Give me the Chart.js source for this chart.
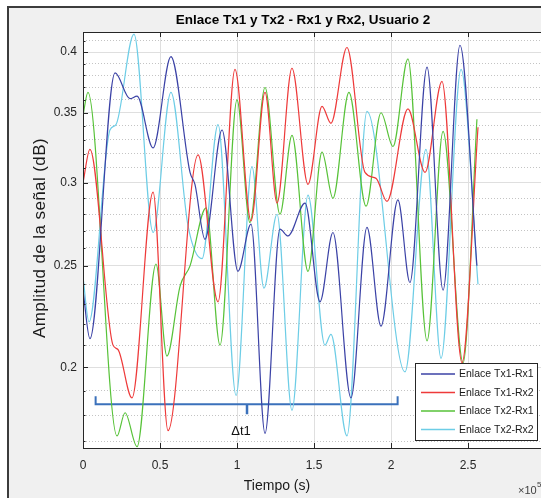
<!DOCTYPE html>
<html lang="es">
<head>
<meta charset="utf-8">
<title>Enlace Tx1 y Tx2 - Rx1 y Rx2, Usuario 2</title>
<script src="https://cdn.jsdelivr.net/npm/chart.js@4.4.1/dist/chart.umd.min.js"></script>
<style>
  html, body { margin: 0; padding: 0; background: #fff; overflow: hidden; width: 541px; height: 498px; }
  #marco { position: absolute; left: 7px; top: 6px; width: 560px; height: 520px; background: #f0f0f0;
           border-left: 2px solid #3c3c3c; border-top: 2px solid #3c3c3c; }
  #grafica { position: absolute; left: 0; top: 0; }
</style>
</head>
<body>
<div id="marco"></div>
<canvas id="grafica" width="560" height="498"></canvas>
<script>
// tiempo en unidades de 1e5 s, amplitud en escala logaritmica
const etiquetas = ["Enlace Tx1-Rx1", "Enlace Tx1-Rx2", "Enlace Tx2-Rx1", "Enlace Tx2-Rx2"];
const colores = ["#3b42a6", "#ee3a3a", "#57c238", "#6dcde6"];

const t_tx1rx1 = [0, 0.045, 0.208, 0.305, 0.351, 0.455, 0.571, 0.695, 0.727, 0.792, 0.903, 1.006, 1.091, 1.182,
  1.279, 1.331, 1.442, 1.539, 1.623, 1.740, 1.844, 1.935, 2.045, 2.123, 2.234, 2.338, 2.448, 2.558];
const a_tx1rx1 = [0.237, 0.213, 0.382, 0.361, 0.363, 0.324, 0.396, 0.307, 0.299, 0.265, 0.337, 0.247, 0.274, 0.173,
  0.271, 0.267, 0.287, 0.231, 0.269, 0.187, 0.272, 0.219, 0.289, 0.241, 0.387, 0.237, 0.406, 0.250];

const t_tx1rx2 = [0, 0.045, 0.195, 0.227, 0.318, 0.455, 0.552, 0.747, 0.877, 0.987, 1.091, 1.182, 1.260, 1.357,
  1.461, 1.552, 1.610, 1.714, 1.831, 1.903, 1.974, 2.110, 2.221, 2.331, 2.461, 2.565];
const a_tx1rx2 = [0.300, 0.323, 0.210, 0.208, 0.187, 0.294, 0.174, 0.319, 0.231, 0.385, 0.276, 0.366, 0.287, 0.386,
  0.299, 0.355, 0.342, 0.404, 0.307, 0.303, 0.288, 0.353, 0.307, 0.375, 0.202, 0.339];

const t_tx2rx1 = [0, 0.032, 0.221, 0.273, 0.351, 0.474, 0.545, 0.630, 0.695, 0.799, 0.890, 1.0, 1.084, 1.182,
  1.279, 1.357, 1.461, 1.552, 1.623, 1.727, 1.838, 1.935, 2.013, 2.110, 2.234, 2.338, 2.468, 2.558];
const a_tx2rx1 = [0.348, 0.366, 0.172, 0.181, 0.168, 0.251, 0.205, 0.239, 0.250, 0.284, 0.210, 0.360, 0.275, 0.370,
  0.280, 0.333, 0.247, 0.321, 0.290, 0.366, 0.285, 0.350, 0.325, 0.394, 0.212, 0.336, 0.202, 0.345];

const t_tx2rx2 = [0, 0.039, 0.175, 0.214, 0.331, 0.455, 0.571, 0.682, 0.773, 0.877, 0.994, 1.097, 1.175, 1.260,
  1.357, 1.461, 1.571, 1.610, 1.714, 1.844, 2.091, 2.227, 2.325, 2.455, 2.565];
const a_tx2rx2 = [0.244, 0.221, 0.337, 0.341, 0.416, 0.269, 0.366, 0.273, 0.254, 0.341, 0.188, 0.311, 0.238, 0.280,
  0.182, 0.292, 0.210, 0.215, 0.172, 0.351, 0.198, 0.323, 0.204, 0.385, 0.240];

// corchete del intervalo Δt1
const corchete_t = [0.082, 0.082, 2.043, 2.043];
const corchete_a = [0.1877, 0.1844, 0.1844, 0.1877];
const marca_t = [1.065, 1.065];
const marca_a = [0.1844, 0.1804];
const dt_t = 1.026, dt_a = 0.1739;

const ticksX = [0, 0.5, 1, 1.5, 2, 2.5, 3];
const ticksY = [0.2, 0.25, 0.3, 0.35, 0.4];
const ticksYMenor = [0.17, 0.18, 0.19, 0.21, 0.22, 0.23, 0.24, 0.26, 0.27, 0.28, 0.29,
  0.31, 0.32, 0.33, 0.34, 0.36, 0.37, 0.38, 0.39, 0.41];
const yMin = 0.1675, yMax = 0.418;

const series = [
  [t_tx1rx1, a_tx1rx1], [t_tx1rx2, a_tx1rx2], [t_tx2rx1, a_tx2rx1], [t_tx2rx2, a_tx2rx2]
];
const puntos = (ts, as) => ts.map((t, i) => ({ x: t, y: as[i] }));

const datasets = series.map(([ts, as], i) => ({
  label: etiquetas[i],
  data: puntos(ts, as),
  borderColor: colores[i],
  borderWidth: 1.2,
  pointRadius: 0,
  cubicInterpolationMode: "monotone",
  fill: false
}));
const azulCorchete = "#3b71bb";
datasets.push(
  { data: puntos(corchete_t, corchete_a), borderColor: azulCorchete, borderWidth: 2, pointRadius: 0, tension: 0 },
  { data: puntos(marca_t, marca_a), borderColor: azulCorchete, borderWidth: 2.5, pointRadius: 0, tension: 0 }
);

const FUENTE = "'Liberation Sans', Arial, Helvetica, sans-serif";

// fondo blanco del area de ejes
const fondo = {
  id: "fondo",
  beforeDraw(chart) {
    const { ctx, chartArea: a } = chart;
    ctx.save();
    ctx.fillStyle = "#ffffff";
    ctx.fillRect(a.left, a.top, a.right - a.left, a.bottom - a.top);
    ctx.restore();
  }
};

// caja, marcas hacia dentro, leyenda y textos
const adornos = {
  id: "adornos",
  afterDraw(chart) {
    const { ctx, chartArea: a, scales } = chart;
    const xs = scales.x, ys = scales.y;
    ctx.save();

    ctx.strokeStyle = "#262626";
    ctx.lineWidth = 1;
    ctx.strokeRect(a.left + 0.5, a.top + 0.5, a.right - a.left, a.bottom - a.top);
    ctx.beginPath();
    ticksX.forEach(v => {
      const px = Math.round(xs.getPixelForValue(v)) + 0.5;
      ctx.moveTo(px, a.bottom); ctx.lineTo(px, a.bottom - 5);
      ctx.moveTo(px, a.top); ctx.lineTo(px, a.top + 5);
    });
    ticksY.forEach(v => {
      const py = Math.round(ys.getPixelForValue(v)) + 0.5;
      ctx.moveTo(a.left, py); ctx.lineTo(a.left + 5, py);
    });
    ticksYMenor.forEach(v => {
      const py = Math.round(ys.getPixelForValue(v)) + 0.5;
      ctx.moveTo(a.left, py); ctx.lineTo(a.left + 2.5, py);
    });
    ctx.stroke();

    // leyenda
    const lx = 415.5, ly = 363.5, lw = 122, lh = 77;
    ctx.fillStyle = "#ffffff";
    ctx.fillRect(lx, ly, lw, lh);
    ctx.strokeStyle = "#262626";
    ctx.strokeRect(lx, ly, lw, lh);
    ctx.font = "10.5px " + FUENTE;
    ctx.textBaseline = "middle";
    ctx.textAlign = "left";
    chart.data.datasets.slice(0, 4).forEach((d, i) => {
      const y = 374 + i * 18.5;
      ctx.strokeStyle = d.borderColor;
      ctx.lineWidth = 1.3;
      ctx.beginPath(); ctx.moveTo(421, y); ctx.lineTo(455, y); ctx.stroke();
      ctx.fillStyle = "#1a1a1a";
      ctx.fillText(d.label, 459, y + 0.5);
    });

    // titulo
    ctx.fillStyle = "#000";
    ctx.textAlign = "center";
    ctx.font = "bold 13.5px " + FUENTE;
    ctx.fillText("Enlace Tx1 y Tx2 - Rx1 y Rx2, Usuario 2", 303, 20);

    // etiqueta del eje x
    ctx.font = "14px " + FUENTE;
    ctx.fillStyle = "#1a1a1a";
    ctx.fillText("Tiempo (s)", 277, 486);

    // exponente del eje x
    ctx.textAlign = "left";
    ctx.textBaseline = "alphabetic";
    ctx.fillStyle = "#404040";
    ctx.font = "11px " + FUENTE;
    ctx.fillText("×10", 518, 494);
    ctx.font = "8px " + FUENTE;
    ctx.fillText("5", 537, 487);

    // etiqueta del intervalo
    ctx.textAlign = "center";
    ctx.textBaseline = "middle";
    ctx.fillStyle = "#111";
    ctx.font = "13px " + FUENTE;
    ctx.fillText("Δt1", xs.getPixelForValue(dt_t), ys.getPixelForValue(dt_a));

    // etiqueta del eje y
    ctx.translate(40, (a.top + a.bottom) / 2 - 2);
    ctx.rotate(-Math.PI / 2);
    ctx.font = "17px " + FUENTE;
    ctx.letterSpacing = "0.4px";
    ctx.fillStyle = "#1a1a1a";
    ctx.fillText("Amplitud de la señal (dB)", 0, 0);
    ctx.restore();
  }
};

new Chart(document.getElementById("grafica"), {
  type: "line",
  data: { datasets },
  options: {
    responsive: false,
    animation: false,
    layout: { padding: { left: 28, top: 32, right: 15, bottom: 0 } },
    plugins: { legend: { display: false }, title: { display: false }, tooltip: { enabled: false } },
    scales: {
      x: {
        type: "linear",
        min: 0,
        max: 3,
        afterBuildTicks: s => { s.ticks = ticksX.map(v => ({ value: v })); },
        afterFit: s => { s.height = 50; },
        ticks: {
          padding: 10,
          color: "#262626",
          font: { size: 12, family: FUENTE },
          callback: v => String(v)
        },
        grid: { color: "#dfdfdf", lineWidth: 1, drawTicks: false },
        border: { display: false }
      },
      y: {
        type: "logarithmic",
        position: "left",
        min: yMin,
        max: yMax,
        afterBuildTicks: s => { s.ticks = ticksY.map(v => ({ value: v })); },
        afterFit: s => { s.width = 55; },
        ticks: {
          padding: 6,
          color: "#262626",
          font: { size: 12, family: FUENTE },
          callback: v => String(v)
        },
        grid: { color: "#dfdfdf", lineWidth: 1, drawTicks: false },
        border: { display: false }
      },
      yMenor: {
        type: "logarithmic",
        position: "left",
        min: yMin,
        max: yMax,
        afterBuildTicks: s => { s.ticks = ticksYMenor.map(v => ({ value: v })); },
        afterFit: s => { s.width = 0; },
        ticks: { display: false },
        grid: { color: "#c4c4c4", lineWidth: 1, drawTicks: false },
        border: { display: false, dash: [1, 2] }
      }
    }
  },
  plugins: [fondo, adornos]
});
</script>
</body>
</html>
